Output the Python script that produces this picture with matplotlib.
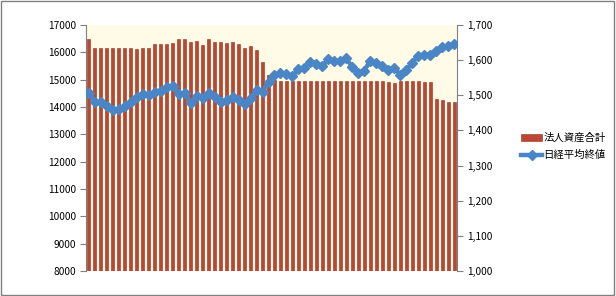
import numpy as np
import matplotlib.pyplot as plt
from matplotlib.patches import Rectangle
from matplotlib.ticker import FuncFormatter

plt.rcParams['font.family'] = ['Noto Sans CJK JP', 'DejaVu Sans']

# 法人資産合計 (left axis)
assets = [16490, 16150, 16150, 16150, 16150, 16150, 16150, 16150, 16110, 16150,
          16150, 16300, 16300, 16300, 16340, 16480, 16480, 16380, 16410, 16270,
          16480, 16370, 16370, 16340, 16380, 16300, 16160, 16230, 16080, 15650,
          15170, 15000, 14950, 14950, 14950, 14940, 14940, 14940, 14940, 14940,
          14940, 14940, 14940, 14940, 14940, 14940, 14940, 14940, 14940, 14940,
          14900, 14865, 14940, 14940, 14940, 14940, 14910, 14910, 14290, 14245,
          14180, 14180]

# 日経平均終値 (right axis)
nikkei = [1506, 1482, 1480, 1470, 1458, 1460, 1470, 1482, 1496, 1504,
          1501, 1510, 1513, 1525, 1526, 1504, 1506, 1477, 1498, 1491,
          1507, 1496, 1482, 1487, 1496, 1487, 1475, 1491, 1514, 1510,
          1539, 1559, 1563, 1560, 1555, 1574, 1577, 1596, 1589, 1582,
          1604, 1597, 1599, 1605, 1580, 1563, 1570, 1599, 1592, 1584,
          1572, 1578, 1558, 1572, 1592, 1612, 1616, 1615, 1626, 1637,
          1639, 1647]

x = np.arange(len(assets))

fig = plt.figure(figsize=(6.16, 2.96), dpi=100)
ax = fig.add_axes([0.1396, 0.0845, 0.6023, 0.831])
ax.set_facecolor('#fffbe6')

ax.bar(x, assets, width=0.5, color='#bb4634', edgecolor='#93301f', linewidth=0.4,
       label='法人資産合計', zorder=2)
ax.set_xlim(-0.5, len(assets) - 0.5)
ax.set_ylim(8000, 17000)
ax.set_yticks(np.arange(8000, 17001, 1000))
ax.set_xticks([])

ax2 = ax.twinx()
ax2.plot(x, nikkei, color='#4a86c5', linewidth=3.2, marker='D', markersize=5.5,
         markeredgecolor='#4a86c5', label='日経平均終値', zorder=3)
ax2.set_ylim(1000, 1700)
ax2.set_yticks(np.arange(1000, 1701, 100))
ax2.yaxis.set_major_formatter(FuncFormatter(lambda v, p: f'{int(v):,}'))

for a in (ax, ax2):
    for s in ('top', 'bottom'):
        a.spines[s].set_visible(False)
    a.spines['left'].set_color('#808080')
    a.spines['right'].set_color('#808080')
    a.tick_params(axis='y', labelsize=7.3, length=4, color='#808080', pad=3)
ax.spines['right'].set_visible(False)
ax2.spines['left'].set_visible(False)

h1, l1 = ax.get_legend_handles_labels()
h2, l2 = ax2.get_legend_handles_labels()
fig.legend(h1 + h2, l1 + l2, loc='center left', bbox_to_anchor=(0.846, 0.505),
           frameon=False, fontsize=7.5, handlelength=2.0, handletextpad=0.15,
           labelspacing=0.7, borderpad=0, borderaxespad=0)

fig.patches.append(Rectangle((0.002, 0.003), 0.995, 0.993, transform=fig.transFigure,
                             fill=False, edgecolor='#808080', linewidth=1))

fig.savefig('out.png', dpi=100)
